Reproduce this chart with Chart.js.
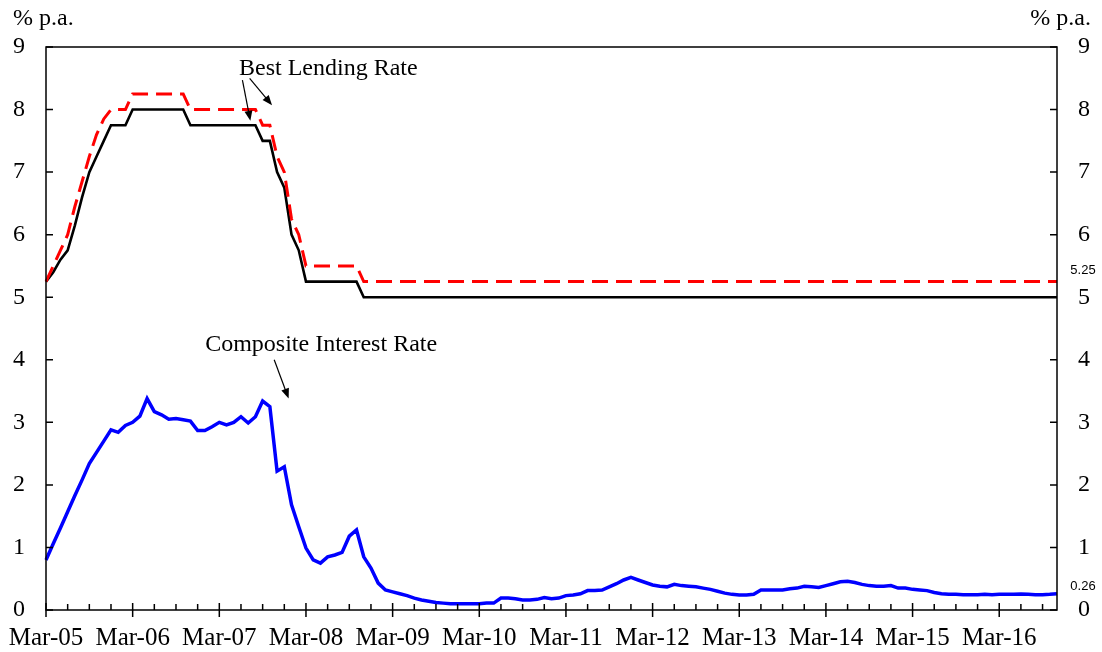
<!DOCTYPE html>
<html>
<head>
<meta charset="utf-8">
<script src="https://cdn.jsdelivr.net/npm/chart.js@4.4.1/dist/chart.umd.min.js"></script>
<style>
  html, body { margin: 0; padding: 0; background: #fff; }
  #wrap { width: 1102px; height: 652px; }
</style>
</head>
<body>
<div id="wrap"><canvas id="graph"></canvas></div>
<script>
// months Mar-05 .. Nov-16
const monthNames = ['Jan','Feb','Mar','Apr','May','Jun','Jul','Aug','Sep','Oct','Nov','Dec']
const months = []
for (let i = 0; i < 141; i++) {
  const m = (2 + i) % 12, y = 5 + Math.floor((2 + i) / 12)
  months.push(monthNames[m] + '-' + String(y).padStart(2, '0'))
}

// best lending rate (lower, black solid)
const blrLow = [
  5.25, 5.4, 5.6, 5.75, 6.15, 6.6, 7.0, 7.25, 7.5, 7.75, 7.75, 7.75,
  8.0, 8.0, 8.0, 8.0, 8.0, 8.0, 8.0, 8.0, 7.75, 7.75, 7.75, 7.75,
  7.75, 7.75, 7.75, 7.75, 7.75, 7.75, 7.5, 7.5, 7.0, 6.75, 6.0, 5.75,
  5.25, 5.25, 5.25, 5.25, 5.25, 5.25, 5.25, 5.25, 5.0, 5.0, 5.0, 5.0,
  5.0, 5.0, 5.0, 5.0, 5.0, 5.0, 5.0, 5.0, 5.0, 5.0, 5.0, 5.0,
  5.0, 5.0, 5.0, 5.0, 5.0, 5.0, 5.0, 5.0, 5.0, 5.0, 5.0, 5.0,
  5.0, 5.0, 5.0, 5.0, 5.0, 5.0, 5.0, 5.0, 5.0, 5.0, 5.0, 5.0,
  5.0, 5.0, 5.0, 5.0, 5.0, 5.0, 5.0, 5.0, 5.0, 5.0, 5.0, 5.0,
  5.0, 5.0, 5.0, 5.0, 5.0, 5.0, 5.0, 5.0, 5.0, 5.0, 5.0, 5.0,
  5.0, 5.0, 5.0, 5.0, 5.0, 5.0, 5.0, 5.0, 5.0, 5.0, 5.0, 5.0,
  5.0, 5.0, 5.0, 5.0, 5.0, 5.0, 5.0, 5.0, 5.0, 5.0, 5.0, 5.0,
  5.0, 5.0, 5.0, 5.0, 5.0, 5.0, 5.0, 5.0, 5.0
]

// best lending rate (upper, red dashed)
const blrHigh = [
  5.25, 5.5, 5.75, 6.0, 6.45, 6.85, 7.25, 7.6, 7.85, 8.0, 8.0, 8.0,
  8.25, 8.25, 8.25, 8.25, 8.25, 8.25, 8.25, 8.25, 8.0, 8.0, 8.0, 8.0,
  8.0, 8.0, 8.0, 8.0, 8.0, 8.0, 7.75, 7.75, 7.25, 7.0, 6.25, 6.0,
  5.5, 5.5, 5.5, 5.5, 5.5, 5.5, 5.5, 5.5, 5.25, 5.25, 5.25, 5.25,
  5.25, 5.25, 5.25, 5.25, 5.25, 5.25, 5.25, 5.25, 5.25, 5.25, 5.25, 5.25,
  5.25, 5.25, 5.25, 5.25, 5.25, 5.25, 5.25, 5.25, 5.25, 5.25, 5.25, 5.25,
  5.25, 5.25, 5.25, 5.25, 5.25, 5.25, 5.25, 5.25, 5.25, 5.25, 5.25, 5.25,
  5.25, 5.25, 5.25, 5.25, 5.25, 5.25, 5.25, 5.25, 5.25, 5.25, 5.25, 5.25,
  5.25, 5.25, 5.25, 5.25, 5.25, 5.25, 5.25, 5.25, 5.25, 5.25, 5.25, 5.25,
  5.25, 5.25, 5.25, 5.25, 5.25, 5.25, 5.25, 5.25, 5.25, 5.25, 5.25, 5.25,
  5.25, 5.25, 5.25, 5.25, 5.25, 5.25, 5.25, 5.25, 5.25, 5.25, 5.25, 5.25,
  5.25, 5.25, 5.25, 5.25, 5.25, 5.25, 5.25, 5.25, 5.25
]

// composite interest rate (blue)
const composite = [
  0.80, 1.06, 1.31, 1.57, 1.83, 2.08, 2.34, 2.52, 2.70, 2.88, 2.84, 2.95,
  3.00, 3.10, 3.38, 3.17, 3.12, 3.05, 3.06, 3.04, 3.02, 2.87, 2.87, 2.93,
  3.00, 2.96, 3.00, 3.09, 2.99, 3.09, 3.34, 3.25, 2.22, 2.29, 1.68, 1.33,
  0.99, 0.80, 0.75, 0.85, 0.88, 0.92, 1.18, 1.28, 0.85, 0.67, 0.43, 0.32,
  0.29, 0.26, 0.23, 0.19, 0.16, 0.14, 0.12, 0.11, 0.10, 0.10, 0.10, 0.10,
  0.10, 0.11, 0.11, 0.19, 0.19, 0.18, 0.16, 0.16, 0.17, 0.20, 0.18, 0.19,
  0.23, 0.24, 0.26, 0.31, 0.31, 0.32, 0.37, 0.42, 0.48, 0.52, 0.48, 0.44,
  0.40, 0.38, 0.37, 0.41, 0.39, 0.38, 0.37, 0.35, 0.33, 0.30, 0.27, 0.25,
  0.24, 0.24, 0.25, 0.32, 0.32, 0.32, 0.32, 0.34, 0.35, 0.38, 0.37, 0.36,
  0.39, 0.42, 0.45, 0.46, 0.44, 0.41, 0.39, 0.38, 0.38, 0.39, 0.35, 0.35,
  0.33, 0.32, 0.31, 0.28, 0.26, 0.25, 0.25, 0.245, 0.245, 0.245, 0.25, 0.245,
  0.25, 0.25, 0.25, 0.255, 0.25, 0.245, 0.245, 0.25, 0.26
]

const yTicks = [0, 1, 2, 3, 4, 5, 6, 7, 8, 9]

const serif = '"Liberation Serif", "Times New Roman", serif'

// text + arrows, positions in data units (month index, % p.a.)
const notes = [
  { text: 'Best Lending Rate', at: [39.1, 8.66],
    arrows: [[[27.2, 8.47], [28.3, 7.82]], [[28.2, 8.5], [31.3, 8.07]]] },
  { text: 'Composite Interest Rate', at: [38.1, 4.24],
    arrows: [[[31.6, 4.0], [33.6, 3.38]]] }
]

function arrow(ctx, x1, y1, x2, y2) {
  const a = Math.atan2(y2 - y1, x2 - x1), L = 10, W = 4
  ctx.beginPath(); ctx.moveTo(x1, y1); ctx.lineTo(x2 - L * Math.cos(a) * 0.6, y2 - L * Math.sin(a) * 0.6); ctx.stroke()
  ctx.beginPath()
  ctx.moveTo(x2, y2)
  ctx.lineTo(x2 - L * Math.cos(a) + W * Math.sin(a), y2 - L * Math.sin(a) - W * Math.cos(a))
  ctx.lineTo(x2 - L * Math.cos(a) - W * Math.sin(a), y2 - L * Math.sin(a) + W * Math.cos(a))
  ctx.closePath(); ctx.fill()
}

const frame = {
  id: 'frame',
  afterDatasetsDraw(chart) {
    const { ctx, chartArea: a, scales } = chart
    const x = scales.x, y = scales.y
    ctx.save()
    ctx.strokeStyle = '#000'; ctx.fillStyle = '#000'
    ctx.lineWidth = 1.5
    ctx.strokeRect(a.left, a.top, a.right - a.left, a.bottom - a.top)
    ctx.beginPath()
    yTicks.forEach(v => {
      const py = y.getPixelForValue(v)
      ctx.moveTo(a.left, py); ctx.lineTo(a.left + 7, py)
      ctx.moveTo(a.right, py); ctx.lineTo(a.right - 7, py)
    })
    months.forEach((m, i) => {
      if (i % 3) return
      const px = x.getPixelForValue(i)
      if (i % 12 === 0) { ctx.moveTo(px, a.bottom - 7); ctx.lineTo(px, a.bottom + 7) }
      else { ctx.moveTo(px, a.bottom - 6); ctx.lineTo(px, a.bottom) }
    })
    ctx.stroke()

    // units
    ctx.font = '24px ' + serif
    ctx.textBaseline = 'alphabetic'
    ctx.textAlign = 'left'; ctx.fillText('% p.a.', 13, 25)
    ctx.textAlign = 'right'; ctx.fillText('% p.a.', 1091, 25)

    // notes
    ctx.font = '24px ' + serif
    ctx.textAlign = 'center'; ctx.textBaseline = 'middle'
    ctx.lineWidth = 1.2
    notes.forEach(n => {
      ctx.fillText(n.text, x.getPixelForValue(n.at[0]), y.getPixelForValue(n.at[1]))
      n.arrows.forEach(([p, q]) => arrow(ctx,
        x.getPixelForValue(p[0]), y.getPixelForValue(p[1]),
        x.getPixelForValue(q[0]), y.getPixelForValue(q[1])))
    })

    // end values
    ctx.font = '13px "Liberation Sans", Arial, sans-serif'
    const last = months.length - 1
    ctx.fillText(blrHigh[last].toFixed(2), a.right + 26, y.getPixelForValue(blrHigh[last]) - 11)
    ctx.fillText(composite[last].toFixed(2), a.right + 26, y.getPixelForValue(composite[last]) - 7)
    ctx.restore()
  }
}

const yAxis = (pos, w) => ({
  type: 'linear', position: pos, min: 0, max: 9,
  grid: { display: false, drawTicks: false }, border: { display: false },
  ticks: { stepSize: 1, color: '#000', padding: 21, font: { family: serif, size: 24 } },
  afterFit(s) { s.width = w }
})

new Chart('graph', {
  type: 'line',
  data: {
    labels: months,
    datasets: [
      { data: blrHigh, borderColor: '#ff0000', borderWidth: 3, borderDash: [16, 8], order: 0 },
      { data: blrLow, borderColor: '#000000', borderWidth: 2.6, order: 1 },
      { data: composite, borderColor: '#0000ff', borderWidth: 3.5, order: 2 }
    ]
  },
  options: {
    responsive: true, maintainAspectRatio: false, animation: false,
    layout: { padding: { top: 47, left: 0, right: 0, bottom: 0 } },
    elements: { point: { radius: 0 }, line: { tension: 0, fill: false } },
    plugins: { legend: { display: false }, tooltip: { enabled: false } },
    scales: {
      x: {
        type: 'category',
        grid: { display: false, drawTicks: false }, border: { display: false },
        ticks: {
          autoSkip: false, maxRotation: 0, minRotation: 0, padding: 13, color: '#000',
          font: { family: serif, size: 25 },
          callback(v, i) { return i % 12 === 0 ? months[i] : null }
        },
        afterFit(s) { s.height = 42; s.paddingLeft = 0; s.paddingRight = 0 }
      },
      y: yAxis('left', 46),
      y2: yAxis('right', 45)
    }
  },
  plugins: [frame]
})
</script>
</body>
</html>
